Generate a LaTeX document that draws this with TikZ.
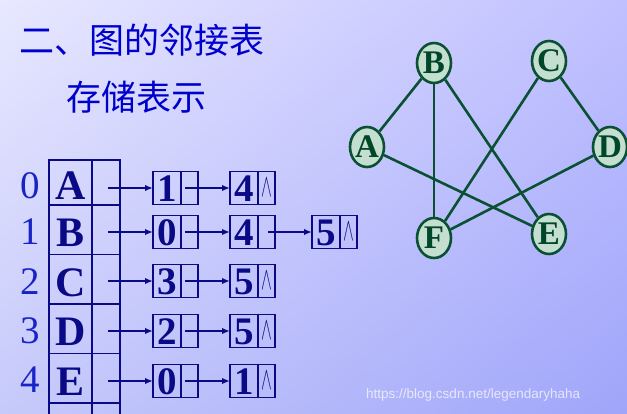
\documentclass[tikz,border=0pt]{standalone}
\usepackage{fontspec}
\usepackage{graphicx}
\setmainfont{Liberation Serif}
\newfontfamily\cjk{Noto Sans CJK SC}
\newfontfamily\wmfont{Liberation Sans}
\usetikzlibrary{positioning,shapes.geometric,arrows.meta,shadings}

\definecolor{bgTL}{RGB}{232,232,255}
\definecolor{bgTR}{RGB}{192,192,255}
\definecolor{bgBL}{RGB}{198,202,250}
\definecolor{bgBR}{RGB}{160,165,250}
\definecolor{tabblue}{RGB}{10,10,135}
\definecolor{idxblue}{RGB}{25,35,200}
\definecolor{titleblue}{RGB}{0,0,205}
\definecolor{gfill}{RGB}{196,222,208}
\definecolor{gline}{RGB}{10,80,50}
\definecolor{gtext}{RGB}{0,70,40}

\newcommand{\nullmark}{\scalebox{0.65}[1.3]{$\wedge$}}

\tikzset{
  titletext/.style={font=\cjk\fontsize{35}{35}\selectfont, text=titleblue, inner sep=0pt},
  idxnum/.style={font=\fontsize{39}{39}\selectfont, text=idxblue, inner sep=0pt},
  vexcell/.style={draw=tabblue, line width=1.6pt, minimum width=43pt, minimum height=49.5pt,
    inner sep=0pt, outer sep=0pt, text height=34pt, text depth=0pt,
    font=\bfseries\fontsize{42}{42}\selectfont, text=tabblue},
  vptr/.style={draw=tabblue, line width=1.6pt, minimum width=28pt, minimum height=49.5pt,
    inner sep=0pt, outer sep=0pt},
  datacell/.style={draw=tabblue, line width=1.4pt, minimum width=28pt, minimum height=33pt,
    inner sep=0pt, outer sep=0pt, text height=27pt, text depth=0pt,
    font=\bfseries\fontsize{39}{39}\selectfont, text=tabblue},
  ptrcell/.style={draw=tabblue, line width=1.4pt, minimum width=17pt, minimum height=33pt,
    inner sep=0pt, outer sep=0pt, font=\fontsize{24.88}{26}\selectfont, text=tabblue},
  listarrow/.style={draw=tabblue, line width=2.8pt, -{Latex[length=8pt,width=6.5pt]}},
  gvertex/.style={ellipse, draw=gline, line width=2.6pt, fill=gfill, minimum width=34pt,
    minimum height=40pt, inner sep=0pt, font=\bfseries\fontsize{33}{33}\selectfont, text=gtext},
  gedge/.style={draw=gline, line width=2.6pt},
  watermark/.style={font=\wmfont\fontsize{13.5}{13.5}\selectfont, text=white, opacity=0.7, inner sep=0pt}
}

\begin{document}
\begin{tikzpicture}[x=1pt,y=-1pt]
\useasboundingbox (0,0) rectangle (627,413);
\shade[upper left=bgTL, upper right=bgTR, lower left=bgBL, lower right=bgBR] (0,0) rectangle (627,413);

% title
\node[titletext, anchor=west] (title1) at (19,40) {二、图的邻接表};
\node[titletext, anchor=west] (title2) at (66,97) {存储表示};

% vertex table
\node[vexcell, minimum height=45pt] (vA) at (70.5,182.5) {A};
\node[vexcell, below=0pt of vA] (vB) {B};
\node[vexcell, below=0pt of vB] (vC) {C};
\node[vexcell, below=0pt of vC] (vD) {D};
\node[vexcell, below=0pt of vD] (vE) {E};
\node[vexcell, below=0pt of vE] (vF) {};
\node[vptr, right=0pt of vA, minimum height=45pt] (hA) {};
\node[vptr, right=0pt of vB] (hB) {};
\node[vptr, right=0pt of vC] (hC) {};
\node[vptr, right=0pt of vD] (hD) {};
\node[vptr, right=0pt of vE] (hE) {};
\node[vptr, right=0pt of vF] (hF) {};

% index numbers
\node[idxnum] (iA) at (30,186) {0};
\node[idxnum] (iB) at (30,232) {1};
\node[idxnum] (iC) at (30,282) {2};
\node[idxnum] (iD) at (30,331) {3};
\node[idxnum] (iE) at (30,380) {4};

% edge lists
\node[datacell] (nA1) at (167,188) {1};
\node[ptrcell, right=0pt of nA1] (pA1) {};
\node[datacell] (nA2) at (244,188) {4};
\node[ptrcell, right=0pt of nA2] (pA2) {\nullmark};

\node[datacell] (nB1) at (167,232) {0};
\node[ptrcell, right=0pt of nB1] (pB1) {};
\node[datacell] (nB2) at (244,232) {4};
\node[ptrcell, right=0pt of nB2] (pB2) {};
\node[datacell] (nB3) at (326,232) {5};
\node[ptrcell, right=0pt of nB3] (pB3) {\nullmark};

\node[datacell] (nC1) at (167,281) {3};
\node[ptrcell, right=0pt of nC1] (pC1) {};
\node[datacell] (nC2) at (244,281) {5};
\node[ptrcell, right=0pt of nC2] (pC2) {\nullmark};

\node[datacell] (nD1) at (167,331) {2};
\node[ptrcell, right=0pt of nD1] (pD1) {};
\node[datacell] (nD2) at (244,331) {5};
\node[ptrcell, right=0pt of nD2] (pD2) {\nullmark};

\node[datacell] (nE1) at (167,381) {0};
\node[ptrcell, right=0pt of nE1] (pE1) {};
\node[datacell] (nE2) at (244,381) {1};
\node[ptrcell, right=0pt of nE2] (pE2) {\nullmark};

\draw[listarrow] ([xshift=2pt]hA.center |- nA1.west) -- (nA1.west);
\draw[listarrow] ([xshift=4pt]pA1.west) -- (nA2.west);
\draw[listarrow] ([xshift=2pt]hB.center |- nB1.west) -- (nB1.west);
\draw[listarrow] ([xshift=4pt]pB1.west) -- (nB2.west);
\draw[listarrow] ([xshift=10pt]pB2.west) -- (nB3.west);
\draw[listarrow] ([xshift=2pt]hC.center |- nC1.west) -- (nC1.west);
\draw[listarrow] ([xshift=4pt]pC1.west) -- (nC2.west);
\draw[listarrow] ([xshift=2pt]hD.center |- nD1.west) -- (nD1.west);
\draw[listarrow] ([xshift=4pt]pD1.west) -- (nD2.west);
\draw[listarrow] ([xshift=2pt]hE.center |- nE1.west) -- (nE1.west);
\draw[listarrow] ([xshift=4pt]pE1.west) -- (nE2.west);

% graph
\node[gvertex] (gB) at (434,63) {B};
\node[gvertex] (gC) at (549,61) {C};
\node[gvertex] (gA) at (367,147) {A};
\node[gvertex] (gD) at (610,147) {D};
\node[gvertex] (gF) at (434,238) {F};
\node[gvertex] (gE) at (549,234) {E};
\draw[gedge] (gA) -- (gB);
\draw[gedge] (gB) -- (gF);
\draw[gedge] (gB) -- (gE);
\draw[gedge] (gC) -- (gF);
\draw[gedge] (gC) -- (gD);
\draw[gedge] (gA) -- (gE);
\draw[gedge] (gD) -- (gF);

\node[watermark, anchor=west] (wm) at (366,395) {https://blog.csdn.net/legendaryhaha};
\end{tikzpicture}
\end{document}
